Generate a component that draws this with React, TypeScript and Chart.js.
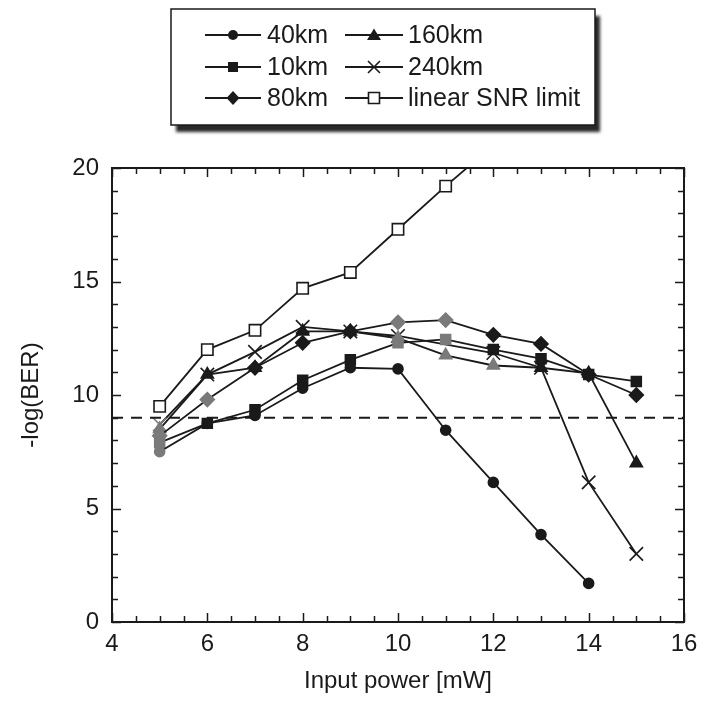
import React, { useEffect, useRef } from "react";
import { Chart, registerables } from "chart.js";

Chart.register(...registerables);

// ---- data ----
const powers = [5, 6, 7, 8, 9, 10, 11, 12, 13, 14, 15];
const km40 = [7.5, 8.75, 9.1, 10.3, 11.2, 11.15, 8.45, 6.15, 3.85, 1.7, null];
const km10 = [7.9, 8.75, 9.35, 10.65, 11.55, 12.3, 12.45, 12.0, 11.6, 10.9, 10.6];
const km80 = [8.2, 9.8, 11.2, 12.3, 12.8, 13.2, 13.3, 12.65, 12.25, 10.9, 10.0];
const km160 = [8.5, 10.9, 11.2, 12.8, 12.8, 12.5, 11.75, 11.3, 11.2, 10.95, 7.0];
const km240 = [8.7, 10.9, 11.9, 13.0, 12.8, 12.6, null, 11.85, 11.2, 6.15, 3.0];
const snrLimit = [9.5, 12.0, 12.85, 14.7, 15.4, 17.3, 19.2, 21.0, null, null, null];
const berLimit = 9;
const xRange = [4, 16];
const yRange = [0, 20];
const xTicks = [4, 6, 8, 10, 12, 14, 16];
const yTicks = [0, 5, 10, 15, 20];
const seriesNames = ["40km", "10km", "80km", "160km", "240km", "linear SNR limit"];

const FONT = "'Liberation Sans', Arial, Helvetica, sans-serif";
const INK = "#1a1a1a";
const GREY = "#7a7a7a";

function pts(vals: (number | null)[]) {
  const out: { x: number; y: number }[] = [];
  vals.forEach((v, i) => {
    if (v !== null) out.push({ x: powers[i], y: v });
  });
  return out;
}

function colorsFor(vals: (number | null)[], greyAt: number[]) {
  const out: string[] = [];
  vals.forEach((v, i) => {
    if (v !== null) out.push(greyAt.includes(powers[i]) ? GREY : INK);
  });
  return out;
}

function drawMarker(ctx: CanvasRenderingContext2D, kind: string, x: number, y: number) {
  ctx.save();
  ctx.fillStyle = INK;
  ctx.strokeStyle = INK;
  ctx.lineWidth = 1.6;
  ctx.beginPath();
  if (kind === "circle") {
    ctx.arc(x, y, 5, 0, Math.PI * 2);
    ctx.fill();
  } else if (kind === "rect") {
    ctx.rect(x - 5, y - 5, 10, 10);
    ctx.fill();
  } else if (kind === "rectRot") {
    ctx.moveTo(x, y - 7);
    ctx.lineTo(x + 6.5, y);
    ctx.lineTo(x, y + 7);
    ctx.lineTo(x - 6.5, y);
    ctx.closePath();
    ctx.fill();
  } else if (kind === "triangle") {
    ctx.moveTo(x, y - 6.5);
    ctx.lineTo(x + 7, y + 5);
    ctx.lineTo(x - 7, y + 5);
    ctx.closePath();
    ctx.fill();
  } else if (kind === "crossRot") {
    ctx.moveTo(x - 6, y - 6);
    ctx.lineTo(x + 6, y + 6);
    ctx.moveTo(x + 6, y - 6);
    ctx.lineTo(x - 6, y + 6);
    ctx.stroke();
  } else if (kind === "open") {
    ctx.fillStyle = "#fff";
    ctx.rect(x - 5.5, y - 5.5, 11, 11);
    ctx.fill();
    ctx.stroke();
  }
  ctx.restore();
}

const legendPlugin = {
  id: "boxLegend",
  afterDraw(chart: any) {
    const ctx: CanvasRenderingContext2D = chart.ctx;
    const L = 171, T = 9, W = 424, H = 116;
    ctx.save();
    ctx.shadowColor = "rgba(30,30,30,0.95)";
    ctx.shadowOffsetX = 5;
    ctx.shadowOffsetY = 7;
    ctx.shadowBlur = 3;
    ctx.fillStyle = "#fff";
    ctx.fillRect(L, T, W, H);
    ctx.restore();
    ctx.save();
    ctx.strokeStyle = INK;
    ctx.lineWidth = 1.5;
    ctx.strokeRect(L, T, W, H);
    const kinds = ["circle", "rect", "rectRot", "triangle", "crossRot", "open"];
    const rows = [35, 67, 98];
    const cols = [
      { x1: 205, x2: 261, tx: 267 },
      { x1: 345, x2: 403, tx: 408 },
    ];
    ctx.font = `25px ${FONT}`;
    ctx.textBaseline = "middle";
    ctx.textAlign = "left";
    seriesNames.forEach((name, i) => {
      const c = cols[Math.floor(i / 3)];
      const y = rows[i % 3];
      ctx.strokeStyle = INK;
      ctx.lineWidth = 1.8;
      ctx.beginPath();
      ctx.moveTo(c.x1, y);
      ctx.lineTo(c.x2, y);
      ctx.stroke();
      drawMarker(ctx, kinds[i], (c.x1 + c.x2) / 2, y);
      ctx.fillStyle = INK;
      ctx.fillText(name, c.tx, y + 1);
    });
    ctx.restore();
  },
};

const framePlugin = {
  id: "frameTicks",
  afterDatasetsDraw(chart: any) {
    const ctx: CanvasRenderingContext2D = chart.ctx;
    const { left, right, top, bottom } = chart.chartArea;
    const xs = chart.scales.x;
    const ys = chart.scales.y;
    ctx.save();
    ctx.strokeStyle = INK;
    ctx.lineWidth = 1.5;
    ctx.beginPath();
    for (let v = xRange[0]; v <= xRange[1] + 1e-9; v += 0.5) {
      const px = Math.round(xs.getPixelForValue(v)) + 0.5;
      const len = Math.abs(v % 2) < 1e-9 ? 9 : 6;
      ctx.moveTo(px, bottom);
      ctx.lineTo(px, bottom - len);
      ctx.moveTo(px, top);
      ctx.lineTo(px, top + len);
    }
    for (let v = yRange[0]; v <= yRange[1] + 1e-9; v += 1) {
      const py = Math.round(ys.getPixelForValue(v)) + 0.5;
      const len = v % 5 === 0 ? 9 : 6;
      ctx.moveTo(left, py);
      ctx.lineTo(left + len, py);
      ctx.moveTo(right, py);
      ctx.lineTo(right - len, py);
    }
    ctx.stroke();
    ctx.lineWidth = 2;
    ctx.strokeRect(left, top, right - left, bottom - top);
    ctx.restore();
  },
};

export default function App() {
  const ref = useRef<HTMLCanvasElement | null>(null);

  useEffect(() => {
    if (!ref.current) return;
    const line = (label: string, vals: (number | null)[], style: string, radius: number, greyAt: number[]) => {
      const cols = colorsFor(vals, greyAt);
      return {
        label,
        data: pts(vals),
        borderColor: INK,
        borderWidth: 1.8,
        pointStyle: style,
        pointRadius: radius,
        pointBackgroundColor: cols,
        pointBorderColor: cols,
        pointBorderWidth: 1.6,
        fill: false,
        tension: 0,
      };
    };
    const chart = new Chart(ref.current, {
      type: "line",
      data: {
        datasets: [
          {
            label: "BER limit",
            data: [
              { x: xRange[0], y: berLimit },
              { x: xRange[1], y: berLimit },
            ],
            borderColor: INK,
            borderWidth: 2,
            borderDash: [11, 8],
            pointRadius: 0,
            fill: false,
          } as any,
          line(seriesNames[0], km40, "circle", 5, [5]),
          line(seriesNames[1], km10, "rect", 7, [5, 10, 11]),
          line(seriesNames[2], km80, "rectRot", 7, [5, 6, 10, 11]),
          line(seriesNames[3], km160, "triangle", 7, [5, 10, 11, 12]),
          line(seriesNames[4], km240, "crossRot", 9.5, [5]),
          {
            ...line(seriesNames[5], snrLimit, "rect", 8, []),
            pointBackgroundColor: "#fff",
            pointBorderColor: INK,
          },
        ],
      },
      options: {
        responsive: false,
        animation: false,
        events: [],
        layout: { padding: { top: 168, right: 23, left: 0, bottom: 0 } },
        plugins: {
          legend: { display: false },
          tooltip: { enabled: false },
        },
        scales: {
          x: {
            type: "linear",
            min: xRange[0],
            max: xRange[1],
            afterFit: (s: any) => {
              s.height = 80;
            },
            afterBuildTicks: (s: any) => {
              s.ticks = xTicks.map((v) => ({ value: v }));
            },
            grid: { display: false, drawTicks: false },
            border: { display: false },
            ticks: {
              padding: 8,
              color: INK,
              font: { size: 24, family: FONT },
              maxRotation: 0,
            },
            title: {
              display: true,
              text: "Input power [mW]",
              color: INK,
              font: { size: 24, family: FONT },
              padding: { top: 0, bottom: 6 },
            },
          },
          y: {
            type: "linear",
            min: yRange[0],
            max: yRange[1],
            afterFit: (s: any) => {
              s.width = 112;
            },
            afterBuildTicks: (s: any) => {
              s.ticks = yTicks.map((v) => ({ value: v }));
            },
            grid: { display: false, drawTicks: false },
            border: { display: false },
            ticks: {
              padding: 13,
              color: INK,
              font: { size: 24, family: FONT },
            },
            title: {
              display: true,
              text: "-log(BER)",
              color: INK,
              font: { size: 24, family: FONT },
              padding: { top: 17, bottom: 0 },
            },
          },
        },
      } as any,
      plugins: [framePlugin, legendPlugin],
    });
    return () => chart.destroy();
  }, []);

  return (
    <div style={{ position: "absolute", left: 0, top: 0, width: 707, height: 702, background: "#fff" }}>
      <canvas ref={ref} width={707} height={702} style={{ display: "block" }} />
    </div>
  );
}
